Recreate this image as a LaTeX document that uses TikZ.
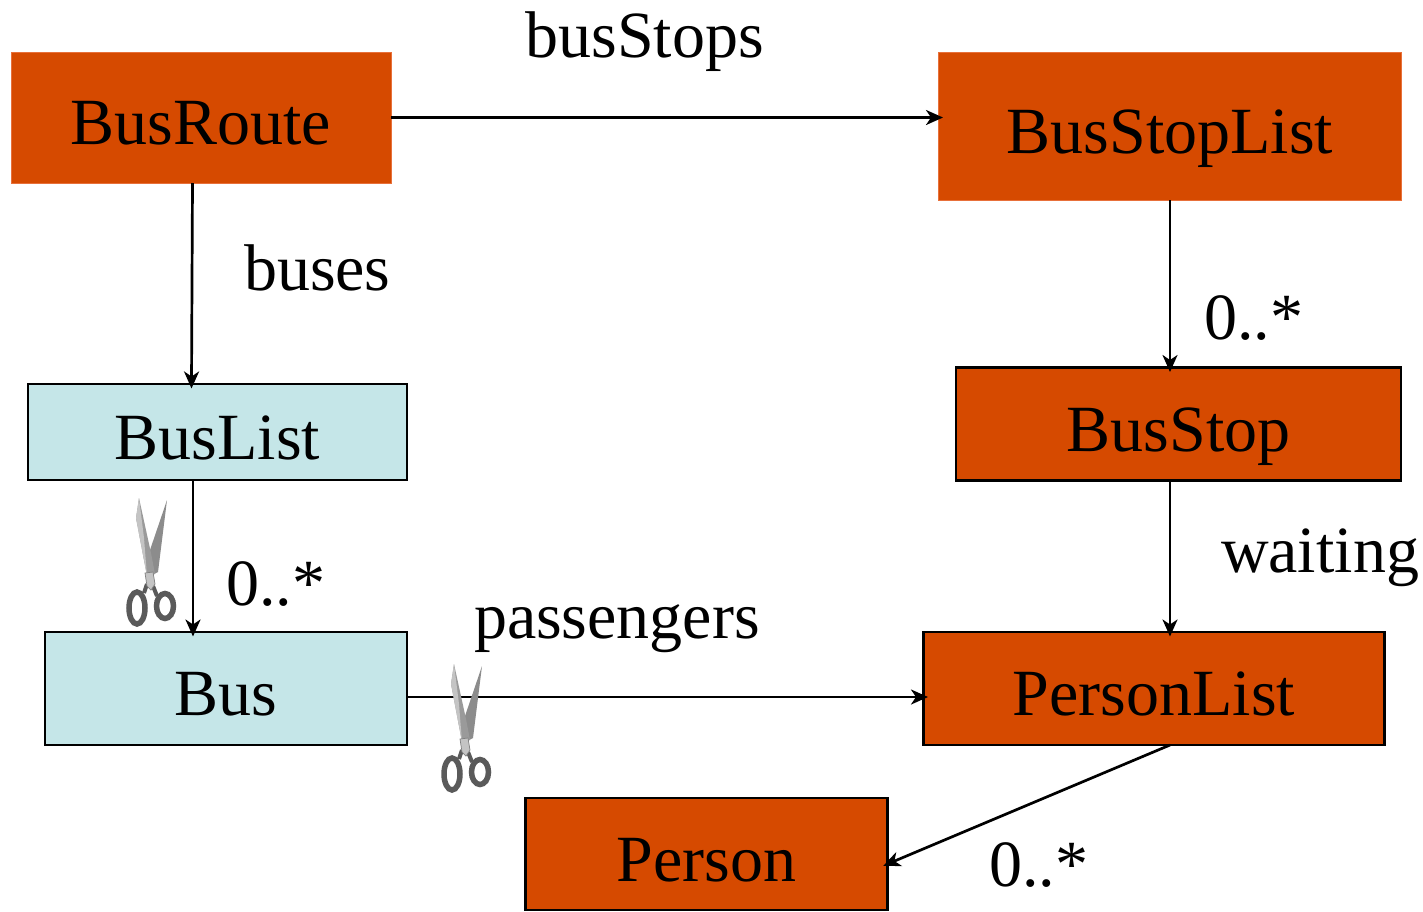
\documentclass[tikz,border=0pt]{standalone}
\usepackage{fontspec}
\setmainfont{Liberation Serif}
\usetikzlibrary{arrows.meta}
\definecolor{rust}{HTML}{D64A00}
\definecolor{rustedge}{HTML}{E8703A}
\definecolor{paleblue}{HTML}{C5E6E8}
\definecolor{bladedark}{HTML}{8C8C8C}
\definecolor{blademid}{HTML}{9A9A9A}
\definecolor{bladelight}{HTML}{C4C4C4}
\definecolor{handle}{HTML}{5A5A5A}
\tikzset{
  x=1pt,y=-1pt,
  boxbase/.style={inner sep=0pt,outer sep=0pt,align=center,text depth=0pt,text height=54pt,
    font=\fontsize{66}{70}\selectfont},
  redplain/.style={boxbase,fill=rust,draw=rustedge,line width=1pt},
  redbox/.style={boxbase,fill=rust,draw=black,line width=2.5pt},
  bluebox/.style={boxbase,fill=paleblue,draw=black,line width=2.5pt},
  lbl/.style={inner sep=0pt,outer sep=0pt,anchor=base west,font=\fontsize{66}{70}\selectfont},
  conn/.style={draw=black,line width=2.7pt,-{Stealth[length=17pt,width=15pt,inset=5pt]},shorten >=-4.5pt},
  scissors/.pic={
    % coordinates relative to the pivot
    \fill[bladedark] (17,-78) -- (-1,-25) -- (-3,0) -- (8,-6) -- cycle;
    \fill[blademid] (-11,-80) -- (1,-25) -- (5,-4) -- (-3,-2) -- (-14,-60) -- cycle;
    \fill[bladelight] (-11,-80) -- (-14,-60) -- (-3,-2) -- (-6,-40) -- cycle;
    \draw[handle,line width=4pt] (-3,6) -- (-6,15);
    \draw[handle,line width=4pt] (3,8) -- (7,18);
    \draw[handle,line width=5.5pt] (-13,30) ellipse [x radius=8,y radius=16];
    \draw[handle,line width=5.5pt] (15,28) ellipse [x radius=8.5,y radius=12.5];
    \fill[bladelight,draw=gray,line width=.7pt] (-5,-5) -- (3,-6) -- (5,6) -- (1,12) -- (-3,8) -- cycle;
  }
}
\begin{document}
\begin{tikzpicture}
\useasboundingbox (0,0) rectangle (1423,911);
\node[redplain,minimum width=380pt,minimum height=131pt] (busroute) at (201,117.5) {BusRoute};
\node[redplain,minimum width=463pt,minimum height=148pt] (busstoplist) at (1170,126) {BusStopList};
\node[bluebox,minimum width=379pt,minimum height=96pt] (buslist) at (217.5,432) {BusList};
\node[redbox,minimum width=445pt,minimum height=113pt] (busstop) at (1178.5,424) {BusStop};
\node[bluebox,minimum width=362pt,minimum height=113pt] (bus) at (226,688.5) {Bus};
\node[redbox,minimum width=461pt,minimum height=113pt] (personlist) at (1154,688.5) {PersonList};
\node[redbox,minimum width=362pt,minimum height=112pt] (person) at (706.5,854) {Person};

\draw[conn] (busroute.east) -- (busroute.east -| busstoplist.west);
\draw[conn] ([xshift=-8.5pt]busroute.south) -- ([xshift=-26pt]buslist.north);
\draw[conn] ([xshift=-24.5pt]buslist.south) -- ([xshift=-33pt]bus.north);
\draw[conn] (busstoplist.south) -- ([xshift=-8.5pt]busstop.north);
\draw[conn] ([xshift=-8.5pt]busstop.south) -- ([xshift=16pt]personlist.north);
\draw[conn] ([yshift=-8.5pt]bus.east) -- ([yshift=-8.5pt]personlist.west);
\draw[conn] ([xshift=16pt]personlist.south) -- ([yshift=-10pt]person.east);

\node[lbl] (lstops) at (525.5,57) {busStops};
\node[lbl] (lbuses) at (244,290) {buses};
\node[lbl] (lm1) at (226,605) {0..*};
\node[lbl] (lm2) at (1204,339) {0..*};
\node[lbl] (lm3) at (989,886) {0..*};
\node[lbl] (lpass) at (474,638) {passengers};
\node[lbl] (lwait) at (1221,572) {waiting};

\pic at (150,578) {scissors};
\pic at (465,744) {scissors};
\end{tikzpicture}
\end{document}
